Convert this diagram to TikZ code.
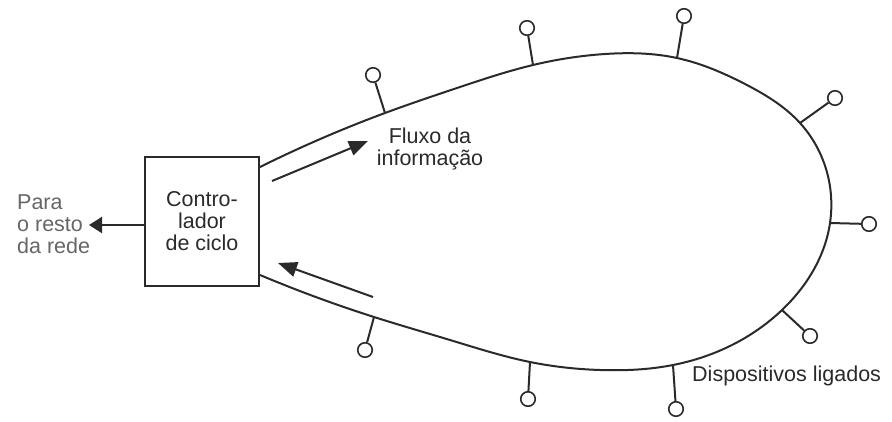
\documentclass[tikz,border=0pt]{standalone}
\usepackage{fontspec}
\setmainfont{Liberation Sans}
\usetikzlibrary{arrows.meta,hobby}
\definecolor{ink}{HTML}{2A2A2A}
\definecolor{softink}{HTML}{666666}
\begin{document}
\begin{tikzpicture}[x=1pt,y=-1pt,
  txt/.style={font=\fontsize{21.5}{22}\selectfont, text=ink, inner sep=0pt, align=center},
  ctrlbox/.style={draw=ink, line width=2pt, minimum width=114pt, minimum height=129pt, inner sep=0pt},
  ring/.style={draw=ink, line width=2pt},
  stub/.style={draw=ink, line width=2pt},
  dev/.style={circle, draw=ink, line width=1.6pt, minimum size=14.5pt, inner sep=0pt, fill=white},
  flow/.style={draw=ink, line width=2pt, -{Triangle[length=19pt,width=15pt]}},
  outarrow/.style={draw=ink, line width=2pt, -{Triangle[length=13pt,width=16pt]}}
]
\useasboundingbox (0,0) rectangle (892,421);
% controller box
\node[ctrlbox] (ctrl) at (202,221.5) {};
\node[txt] (ctrltxt) at (202,221.5) {Contro-\\lador\\de ciclo};
% left text and arrow
\node[txt, text=softink, align=left, anchor=west] (rest) at (17,224) {Para\\o resto\\da rede};
\coordinate (outtip) at (89,225);
\draw[outarrow] (ctrl.west |- outtip) -- (outtip);
% ring coordinates
\coordinate (s) at (260,167);
\coordinate (b1) at (385,113);
\coordinate (b2) at (533,65);
\coordinate (b3) at (677,58);
\coordinate (b4) at (800,123);
\coordinate (b5) at (830,223);
\coordinate (b6) at (782,310);
\coordinate (b7) at (673,365);
\coordinate (b8) at (530,362);
\coordinate (b9) at (374,317);
\coordinate (e) at (260,275);
\draw[ring] (s) to[curve through={(b1) (460,87) (b2) (605,54) (b3) (745,84) (b4) (b5) (b6)
  (732,345) (b7) (600,370) (b8) (450,340) (b9)}] (e);
% devices
\node[dev] (c1) at (373,75) {};
\node[dev] (c2) at (527,28) {};
\node[dev] (c3) at (684,16) {};
\node[dev] (c4) at (835,98) {};
\node[dev] (c5) at (869,224) {};
\node[dev] (c6) at (810,336) {};
\node[dev] (c7) at (676,409) {};
\node[dev] (c8) at (528,399) {};
\node[dev] (c9) at (365,350) {};
\foreach \i in {1,...,9} { \draw[stub] (b\i) -- (c\i); }
% flow arrows
\coordinate (f1s) at (272,181);
\coordinate (f1e) at (368,141);
\coordinate (f2s) at (373,297);
\coordinate (f2e) at (278,263);
\draw[flow] (f1s) -- (f1e);
\draw[flow] (f2s) -- (f2e);
% labels
\node[txt] (fluxo) at (430,149) {Fluxo da\\informação};
\node[txt, anchor=west] (disp) at (692,376) {Dispositivos ligados};
\end{tikzpicture}
\end{document}
